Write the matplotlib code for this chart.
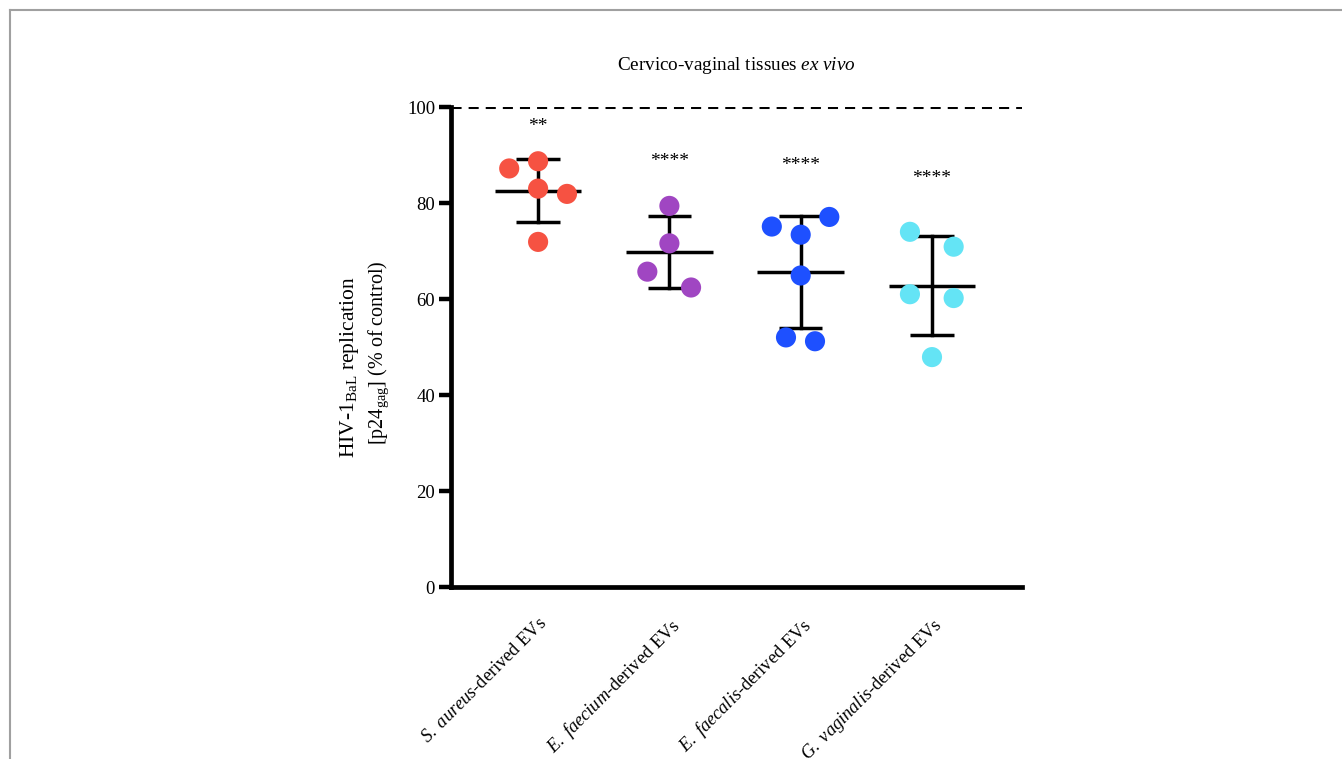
import numpy as np
from matplotlib import pyplot as plt
from matplotlib.lines import Line2D

## HIV-1 replication in cervico-vaginal tissue treated with bacterial EVs
groups = [r'$\it{S.\ aureus}$-derived EVs',
          r'$\it{E.\ faecium}$-derived EVs',
          r'$\it{E.\ faecalis}$-derived EVs',
          r'$\it{G.\ vaginalis}$-derived EVs']

saureus = [87.2, 88.7, 83.0, 81.9, 71.9]
efaecium = [79.4, 71.6, 65.7, 62.4]
efaecalis = [75.1, 77.1, 73.4, 64.9, 52.0, 51.2]
gvaginalis = [74.0, 70.9, 61.0, 60.2, 47.9]
values = [saureus, efaecium, efaecalis, gvaginalis]

stars = ['**', '****', '****', '****']
star_y = [95.9, 88.7, 87.8, 85.1]

colors = ['#F65242', '#A046C2', '#1E50FF', '#64E4F5']

## horizontal spread of points inside each column
offsets = [[-0.22, 0, 0, 0.22, 0],
           [0, 0, -0.168, 0.165],
           [-0.22, 0.218, 0, 0, -0.112, 0.109],
           [-0.168, 0.165, -0.168, 0.165, 0]]

plt.rcParams['font.family'] = ['Liberation Serif', 'DejaVu Serif']
plt.rcParams['mathtext.fontset'] = 'custom'
plt.rcParams['mathtext.rm'] = 'Liberation Serif'
plt.rcParams['mathtext.it'] = 'Liberation Serif:italic'

fig = plt.figure(figsize=(13.42, 7.59), dpi=100)
ax = fig.add_axes([0.3361, 0.2266, 0.4255, 0.6324])

lw = 2.5
for i, vals in enumerate(values):
    v = np.array(vals)
    m = v.mean()
    sd = v.std(ddof=1)
    ax.plot([i - 0.33, i + 0.33], [m, m], color='k', lw=lw, solid_capstyle='butt', zorder=3)
    ax.plot([i, i], [m - sd, m + sd], color='k', lw=lw, zorder=3)
    for yy in (m - sd, m + sd):
        ax.plot([i - 0.165, i + 0.165], [yy, yy], color='k', lw=lw, solid_capstyle='butt', zorder=3)
    xs = i + np.array(offsets[i])
    ax.scatter(xs, v, s=210, color=colors[i], edgecolors='none', zorder=5)
    ax.text(i, star_y[i], stars[i], ha='center', va='center', fontsize=14)

ax.axhline(100, color='k', lw=2.2, ls=(0, (3.3, 2.3)), zorder=2)

ax.set_xlim(-0.663, 3.686)
ax.set_ylim(0, 100)
ax.set_yticks(np.arange(0, 101, 20))
ax.set_xticks(range(len(groups)))
ax.set_xticklabels(groups, rotation=45, ha='right', rotation_mode='anchor', fontsize=13.25)
ax.tick_params(axis='x', length=0, pad=20)
ax.tick_params(axis='y', length=8.5, width=3.2, labelsize=13.5, pad=3)

for s in ['top', 'right']:
    ax.spines[s].set_visible(False)
for s in ['left', 'bottom']:
    ax.spines[s].set_linewidth(3.4)

## two-line y label, each line placed on its own
ax.text(-0.177, 0.458, 'HIV-1$_{\\mathrm{BaL}}$ replication', transform=ax.transAxes,
        rotation=90, ha='center', va='center', fontsize=15.5)
ax.text(-0.126, 0.4875, '[p24$_{\\mathrm{gag}}$] (% of control)', transform=ax.transAxes,
        rotation=90, ha='center', va='center', fontsize=14.5)

ax.set_title(r'Cervico-vaginal tissues $\it{ex\ vivo}$', fontsize=13.75, pad=27)

## thin grey page frame
fig.add_artist(Line2D([9.5 / 1342, 1], [1 - 9.5 / 759] * 2, color='#a0a0a0', lw=1.5))
fig.add_artist(Line2D([9.5 / 1342] * 2, [0, 1 - 9.5 / 759], color='#a0a0a0', lw=1.5))

fig.savefig('out.png', dpi=100)
